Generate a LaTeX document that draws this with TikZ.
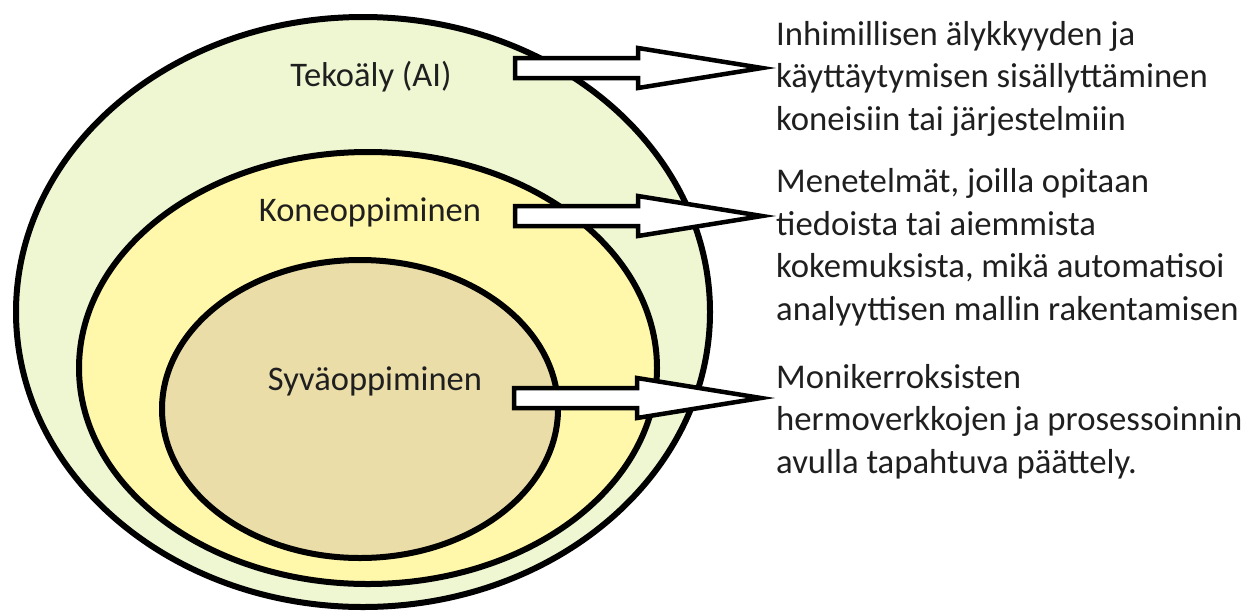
\documentclass[tikz,border=0pt]{standalone}
\usepackage{fontspec}
\setmainfont{Carlito}
\begin{document}
\begin{tikzpicture}[x=1pt,y=-1pt,
  ring/.style={draw=black,line width=6pt},
  label/.style={font=\fontsize{34.5}{42}\selectfont,text=black!88,inner sep=0pt},
  desc/.style={font=\fontsize{34.7}{42.5}\selectfont,text=black!88,align=left,inner sep=0pt,anchor=base west},
  blockarrow/.style={draw=black,fill=white,line width=4.5pt,line join=miter}]
\definecolor{aicol}{RGB}{239,247,210}
\definecolor{mlcol}{RGB}{255,248,170}
\definecolor{dlcol}{RGB}{234,221,168}
\useasboundingbox (0,0) rectangle (1244,614);

% nested fields
\draw[ring,fill=aicol] (363,312) ellipse [x radius=347, y radius=295];
\draw[ring,fill=mlcol] (368,368) ellipse [x radius=289, y radius=216];
\draw[ring,fill=dlcol] (360,409) ellipse [x radius=198, y radius=149];

% field names
\node[label] (ai) at (371,77) {Tekoäly (AI)};
\node[label] (ml) at (370,212) {Koneoppiminen};
\node[label] (dl) at (375,381) {Syväoppiminen};

% descriptions (anchored at the baseline of their last line)
\node[desc] (aid) at (776,130) {Inhimillisen älykkyyden ja\\käyttäytymisen sisällyttäminen\\koneisiin tai järjestelmiin};
\node[desc] (mld) at (776,320) {Menetelmät, joilla opitaan\\tiedoista tai aiemmista\\kokemuksista, mikä automatisoi\\analyyttisen mallin rakentamisen};
\node[desc] (dld) at (776,473) {Monikerroksisten\\hermoverkkojen ja prosessoinnin\\avulla tapahtuva päättely.};

% block arrows from names to descriptions
\coordinate (a1) at (515,68);
\coordinate (a2) at (515,216);
\coordinate (a3) at (514,398);
\foreach \c in {a1,a2,a3}{
  \draw[blockarrow] (\c) ++(0,-10) -- ++(123,0) -- ++(0,-10) -- ++(124,20)
    -- ++(-124,20) -- ++(0,-10) -- ++(-123,0) -- cycle;
}
\end{tikzpicture}
\end{document}
